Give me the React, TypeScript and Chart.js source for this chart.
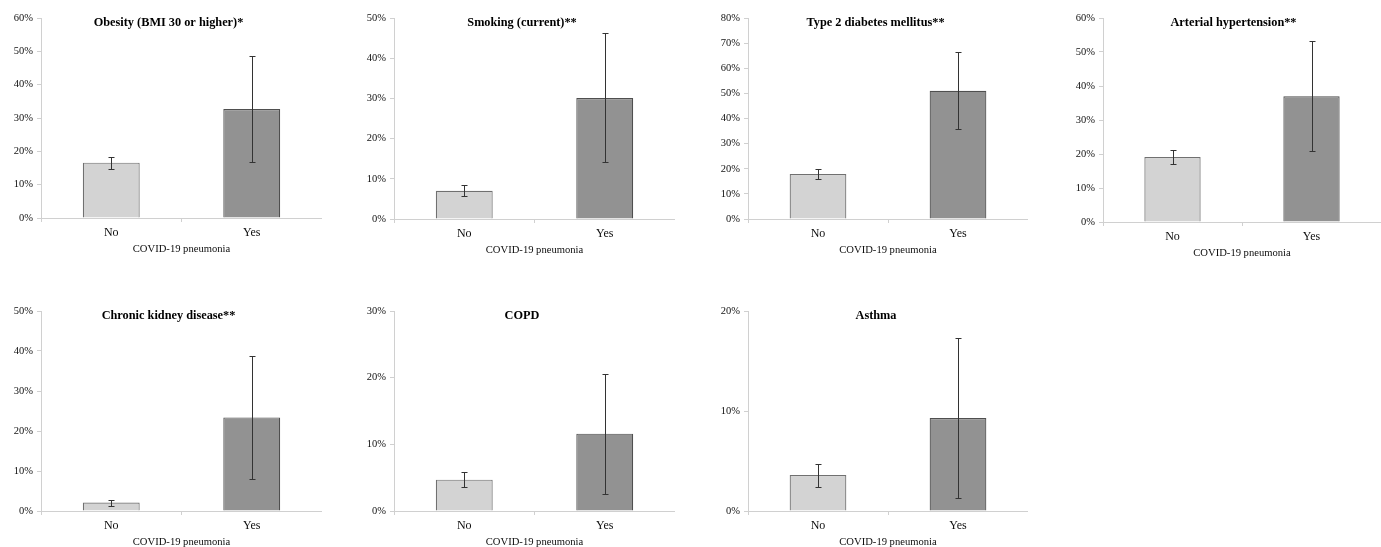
import React, { useEffect, useRef } from "react";
import { Chart, registerables } from "chart.js";

Chart.register(...registerables);

// ---- data ----
const categories = ["No", "Yes"];
const titles = [
  "Obesity (BMI 30 or higher)*",
  "Smoking (current)**",
  "Type 2 diabetes mellitus**",
  "Arterial hypertension**",
  "Chronic kidney disease**",
  "COPD",
  "Asthma",
];
const noValues = [16.6, 7.0, 17.9, 19.1, 2.1, 4.7, 3.6];
const yesValues = [32.7, 30.1, 51.0, 37.0, 23.4, 11.6, 9.3];
const noLow = [14.7, 5.7, 15.8, 17.1, 1.3, 3.6, 2.4];
const noHigh = [18.4, 8.4, 19.9, 21.3, 2.8, 5.8, 4.7];
const yesLow = [16.7, 14.3, 36.0, 21.0, 7.9, 2.6, 1.3];
const yesHigh = [48.6, 46.2, 66.6, 53.3, 38.7, 20.6, 17.3];
const yMax = [60, 50, 80, 60, 50, 30, 20];
const yStep = [10, 10, 10, 10, 10, 10, 10];
const xAxisTitle = "COVID-19 pneumonia";

// ---- layout (plot area in page pixels) ----
const layout = [
  { x: 41, top: 18, bottom: 218, right: 322, titleShift: -13 },
  { x: 394, top: 18, bottom: 218.5, right: 675, titleShift: -12.5 },
  { x: 748, top: 18, bottom: 218.5, right: 1028, titleShift: -12.5 },
  { x: 1103, top: 18, bottom: 222, right: 1381, titleShift: -8.5 },
  { x: 41, top: 311, bottom: 510.5, right: 322, titleShift: -13 },
  { x: 394, top: 311, bottom: 510.5, right: 675, titleShift: -12.5 },
  { x: 748, top: 311, bottom: 510.5, right: 1028, titleShift: -12 },
];

const Y_AXIS_W = 41;
const TOP_PAD = 18;
const X_AXIS_H = 38;
const FONT = "'Liberation Serif', 'Times New Roman', serif";
const AXIS_COLOR = "#d0d0d0";

const errorBarPlugin = {
  id: "errorBars",
  afterDatasetsDraw(chart: any, _args: any, opts: any) {
    const { ctx } = chart;
    const meta = chart.getDatasetMeta(0);
    const y = chart.scales.y;
    ctx.save();
    ctx.strokeStyle = "#333333";
    ctx.lineWidth = 1;
    meta.data.forEach((bar: any, i: number) => {
      const x = Math.round(bar.x) + 0.5;
      const yl = Math.round(y.getPixelForValue(opts.lows[i])) + 0.5;
      const yh = Math.round(y.getPixelForValue(opts.highs[i])) + 0.5;
      ctx.beginPath();
      ctx.moveTo(x, yh);
      ctx.lineTo(x, yl);
      ctx.moveTo(x - 3, yh);
      ctx.lineTo(x + 3, yh);
      ctx.moveTo(x - 3, yl);
      ctx.lineTo(x + 3, yl);
      ctx.stroke();
    });
    ctx.restore();
  },
};

const titlePlugin = {
  id: "panelTitle",
  afterDraw(chart: any, _args: any, opts: any) {
    const { ctx, chartArea } = chart;
    ctx.save();
    ctx.font = `bold 12.3px ${FONT}`;
    ctx.fillStyle = "#000";
    ctx.textAlign = "center";
    ctx.textBaseline = "middle";
    ctx.fillText(opts.text, (chartArea.left + chartArea.right) / 2 + opts.shift, chartArea.top + 5);
    ctx.restore();
  },
};

function Panel({ idx }: { idx: number }) {
  const ref = useRef<HTMLCanvasElement | null>(null);
  const L = layout[idx];
  const left = L.x - Y_AXIS_W;
  const top = L.top - TOP_PAD;
  const width = Math.round(L.right - L.x + Y_AXIS_W);
  const height = Math.round(L.bottom - L.top + TOP_PAD + X_AXIS_H);

  useEffect(() => {
    if (!ref.current) return;
    const chart = new Chart(ref.current, {
      type: "bar",
      data: {
        labels: categories,
        datasets: [
          {
            data: [noValues[idx], yesValues[idx]],
            backgroundColor: ["#d3d3d3", "#929292"],
            borderColor: ["#707070", "#4f4f4f"],
            borderWidth: 1.2,
            categoryPercentage: 1,
            barPercentage: 0.405,
          },
        ],
      },
      options: {
        animation: false,
        responsive: false,
        devicePixelRatio: 1,
        layout: { padding: { top: TOP_PAD, left: 0, right: 0, bottom: 0 } },
        plugins: {
          legend: { display: false },
          tooltip: { enabled: false },
          title: { display: false },
          errorBars: {
            lows: [noLow[idx], yesLow[idx]],
            highs: [noHigh[idx], yesHigh[idx]],
          },
          panelTitle: { text: titles[idx], shift: L.titleShift },
        } as any,
        scales: {
          x: {
            afterFit: (s: any) => {
              s.height = X_AXIS_H;
            },
            grid: {
              display: true,
              drawOnChartArea: false,
              drawTicks: true,
              tickLength: 4,
              color: AXIS_COLOR,
              offset: true,
            },
            border: { display: true, color: AXIS_COLOR, width: 1 },
            ticks: {
              padding: 4,
              color: "#0d0d0d",
              font: { family: FONT, size: 12 },
            },
            title: {
              display: true,
              text: xAxisTitle,
              color: "#0d0d0d",
              padding: { top: 0, bottom: 0 },
              font: { family: FONT, size: 10.6 },
            },
          },
          y: {
            min: 0,
            max: yMax[idx],
            afterFit: (s: any) => {
              s.width = Y_AXIS_W;
            },
            grid: {
              display: true,
              drawOnChartArea: false,
              drawTicks: true,
              tickLength: 4,
              color: AXIS_COLOR,
            },
            border: { display: true, color: AXIS_COLOR, width: 1 },
            ticks: {
              stepSize: yStep[idx],
              padding: 4,
              color: "#111111",
              font: { family: FONT, size: 10.5 },
              callback: (v: any) => `${v}%`,
            },
          },
        },
      },
      plugins: [errorBarPlugin, titlePlugin],
    });
    return () => chart.destroy();
  }, [idx]);

  return (
    <canvas
      ref={ref}
      width={width}
      height={height}
      style={{ position: "absolute", left, top, width, height }}
    />
  );
}

export default function App() {
  return (
    <div
      style={{
        position: "absolute",
        left: 0,
        top: 0,
        width: 1381,
        height: 547,
        overflow: "hidden",
        background: "#fff",
      }}
    >
      {titles.map((_, i) => (
        <Panel key={i} idx={i} />
      ))}
    </div>
  );
}
